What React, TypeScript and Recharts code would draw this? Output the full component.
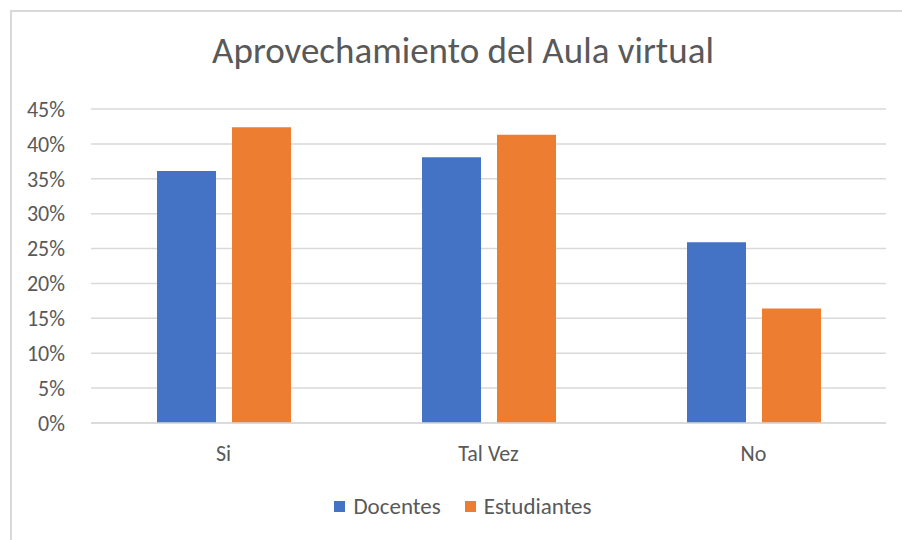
import { Bar, BarChart, CartesianGrid, Legend, XAxis, YAxis } from "recharts";

const categorias = ["Si", "Tal Vez", "No"];
const docentes = [36.1, 38.1, 25.9];
const estudiantes = [42.4, 41.3, 16.4];
const ticksY = [0, 5, 10, 15, 20, 25, 30, 35, 40, 45];

const series = [
  { key: "docentes", nome: "Docentes", cor: "#4472C4" },
  { key: "estudiantes", nome: "Estudiantes", cor: "#ED7D31" },
];

const dados = categorias.map((c, i) => ({
  cat: c,
  docentes: docentes[i],
  estudiantes: estudiantes[i],
}));

const FONTE = "Carlito, Calibri, 'Open Sans', 'Noto Sans', sans-serif";
const CINZA = "#595959";

function LegendaCustom() {
  return (
    <div
      style={{
        display: "flex",
        justifyContent: "center",
        gap: 24,
        height: 28,
        lineHeight: "28px",
        fontFamily: FONTE,
        fontSize: 23,
        color: CINZA,
      }}
    >
      {series.map((s) => (
        <span key={s.key} style={{ display: "flex", alignItems: "center" }}>
          <span
            style={{
              width: 11,
              height: 11,
              background: s.cor,
              display: "inline-block",
              marginRight: 8,
            }}
          />
          {s.nome}
        </span>
      ))}
    </div>
  );
}

export default function App() {
  return (
    <div
      style={{
        position: "absolute",
        left: 0,
        top: 0,
        width: 902,
        height: 540,
        background: "#fff",
        overflow: "hidden",
      }}
    >
      <div
        style={{
          position: "absolute",
          left: 10,
          top: 10,
          width: 900,
          height: 540,
          borderLeft: "2px solid #d9d9d9",
          borderTop: "2px solid #d9d9d9",
        }}
      />
      <div
        style={{
          position: "absolute",
          top: 28,
          left: 12,
          width: 902,
          textAlign: "center",
          fontFamily: FONTE,
          fontSize: 37,
          lineHeight: "45px",
          color: CINZA,
        }}
      >
        Aprovechamiento del Aula virtual
      </div>
      <BarChart
        width={902}
        height={540}
        data={dados}
        margin={{ top: 109, right: 16, left: 21, bottom: 59 }}
        barSize={59}
        barGap={16}
      >
        <CartesianGrid vertical={false} stroke="#d9d9d9" strokeWidth={1.5} />
        <XAxis
          dataKey="cat"
          tickLine={false}
          axisLine={{ stroke: "#d9d9d9", strokeWidth: 1.5 }}
          tick={{ fill: CINZA, fontSize: 22, fontFamily: FONTE }}
          tickMargin={16}
          height={30}
        />
        <YAxis
          domain={[0, 45]}
          ticks={ticksY}
          tickFormatter={(v) => `${v}%`}
          tickLine={false}
          axisLine={false}
          width={70}
          tickMargin={20}
          tick={{ fill: CINZA, fontSize: 22, fontFamily: FONTE }}
        />
        <Legend
          content={<LegendaCustom />}
          wrapperStyle={{ position: "absolute", top: 492, left: 12, width: 902 }}
        />
        {series.map((s) => (
          <Bar
            key={s.key}
            dataKey={s.key}
            name={s.nome}
            fill={s.cor}
            isAnimationActive={false}
          />
        ))}
      </BarChart>
    </div>
  );
}
